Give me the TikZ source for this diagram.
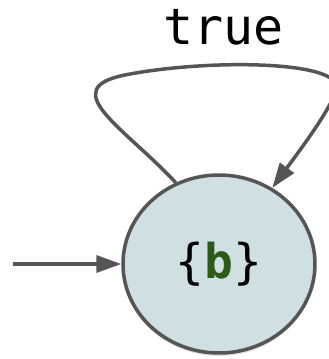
\documentclass[tikz,border=0pt]{standalone}
\usepackage{fontspec}
\setmonofont{DejaVu Sans Mono}
\usetikzlibrary{arrows.meta,shapes.geometric,shadows}
\definecolor{statefill}{HTML}{D0DFE2}
\definecolor{linegray}{HTML}{555555}
\definecolor{bgreen}{HTML}{2B5A1A}
\tikzset{
    state/.style={ellipse, draw=linegray, line width=3.5pt, fill=statefill,
        minimum width=192pt, minimum height=178pt, inner sep=0pt,
        drop shadow={shadow xshift=0pt, shadow yshift=-3pt, opacity=0.25},
        font=\ttfamily\fontsize{48}{52}\selectfont},
    edge/.style={draw=linegray, line width=3.5pt,
        -{Triangle[length=25pt,width=17pt]}},
    lbl/.style={font=\ttfamily\fontsize{50}{54}\selectfont, anchor=base}
}
\begin{document}
\begin{tikzpicture}[x=1pt, y=-1pt]
        \useasboundingbox (0, 0) rectangle (329, 359);
        \node[state] (b) at (219, 264) {\{\textbf{\color{bgreen}b}\}};
        \coordinate (start) at (13, 264);

        \draw[edge] (start) -- (b);
        \draw[edge] (b.118) .. controls (125, 128) and (55, 89) .. (125, 75)
            .. controls (200, 60) and (326, 60) .. (336, 84)
            node[lbl, pos=0.38, yshift=20pt] {true}
            .. controls (341, 96) and (300, 150) .. (b.55);
    \end{tikzpicture}
\end{document}
